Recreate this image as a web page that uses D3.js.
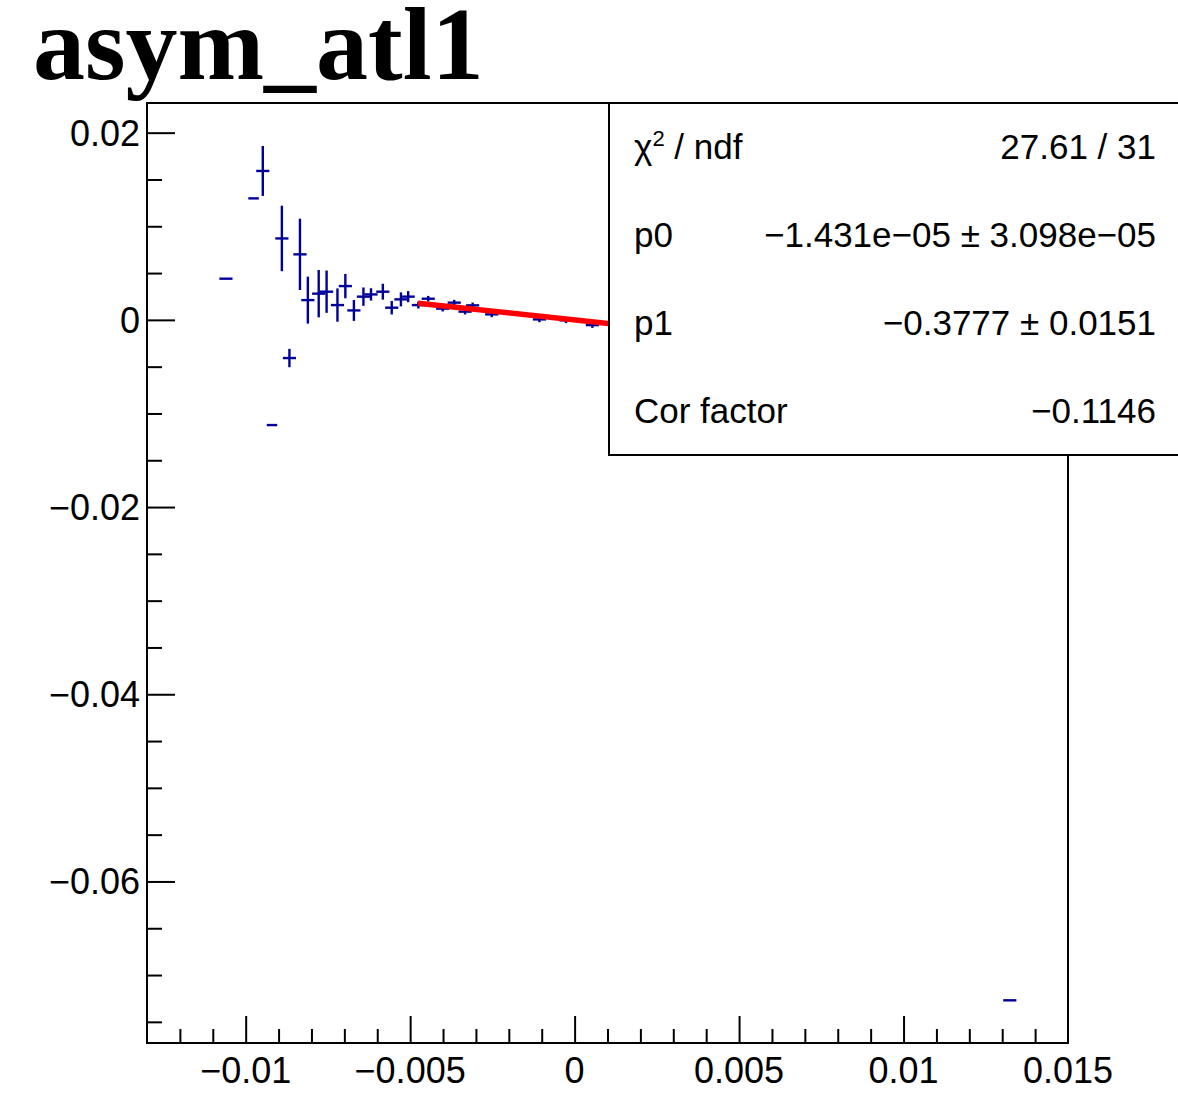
<!DOCTYPE html>
<html>
<head>
<meta charset="utf-8">
<script src="https://cdn.jsdelivr.net/npm/d3@7"></script>
<style>
  html, body { margin: 0; padding: 0; background: #fff; }
  svg { display: block; }
</style>
</head>
<body>
<svg id="chart" width="1178" height="1105"></svg>
<script>
// ---- data ----
const titleText = "asym_atl1";
const xVals = [-0.0106, -0.00976, -0.00948, -0.0092, -0.0089, -0.00867, -0.00835, -0.00811, -0.00778, -0.00754,
               -0.00721, -0.00697, -0.00671, -0.00642, -0.00619, -0.00583, -0.00556, -0.00528, -0.00506, -0.00475,
               -0.00445, -0.00401, -0.00366, -0.00333, -0.0031, -0.00252, -0.00107, -0.00026, 0.00054, 0.01323];
const yVals = [0.0044, 0.01298, 0.01591, -0.01124, 0.0087, -0.00408, 0.0070, 0.00211, 0.0028, 0.00301,
               0.00158, 0.00361, 0.00101, 0.00248, 0.00272, 0.00301, 0.0013, 0.00219, 0.00248, 0.00158,
               0.00226, 0.0012, 0.00184, 0.00088, 0.00155, 0.00059, 0.00005, -0.00005, -0.00056, -0.0727];
const xErrs = [0.0002, 0.00016, 0.0002, 0.00016, 0.0002, 0.0002, 0.0002, 0.0002, 0.0002, 0.0002,
               0.0002, 0.0002, 0.0002, 0.0002, 0.0002, 0.0002, 0.0002, 0.0002, 0.0002, 0.0002,
               0.0002, 0.0002, 0.0002, 0.0002, 0.0002, 0.0002, 0.0002, 0.0002, 0.0002, 0.0002];
const yErrs = [0, 0, 0.00267, 0, 0.0035, 0.00098, 0.00381, 0.00251, 0.00253, 0.00226,
               0.00178, 0.0013, 0.00112, 0.00098, 0.00066, 0.00085, 0.00072, 0.00075, 0.00059, 0.00037,
               0.0003, 0.0003, 0.0003, 0.0003, 0.0003, 0.0003, 0.0003, 0.0003, 0.0003, 0];

// fit: y = p0 + p1*x
const fitP0 = -1.431e-05;
const fitP1 = -0.3777;
const fitRange = [-0.00476, 0.0135];

const xDomain = [-0.013, 0.015];
const yDomain = [-0.07726, 0.02317];
const xMajorTicks = [-0.01, -0.005, 0, 0.005, 0.01, 0.015];
const xTickLabels = ["\u22120.01", "\u22120.005", "0", "0.005", "0.01", "0.015"];
const yMajorTicks = [0.02, 0, -0.02, -0.04, -0.06];
const yTickLabels = ["0.02", "0", "\u22120.02", "\u22120.04", "\u22120.06"];

const statLabels = ["\u03C7\u00B2 / ndf", "p0", "p1", "Cor factor"];
const statValues = ["27.61 / 31", "\u22121.431e\u221205 \u00B1 3.098e\u221205", "\u22120.3777 \u00B1 0.0151", "\u22120.1146"];

// ---- layout ----
const svg = d3.select("#chart");
const L = 147, R = 1068, T = 103, B = 1043;
const x = d3.scaleLinear().domain(xDomain).range([L, R]);
const y = d3.scaleLinear().domain(yDomain).range([B, T]);
const sans = "'Liberation Sans', Arial, Helvetica, sans-serif";

svg.append("rect").attr("width", 1178).attr("height", 1105).attr("fill", "#fff");

// title
svg.append("text")
  .attr("x", 33).attr("y", 79)
  .attr("font-family", "'Liberation Serif', 'Times New Roman', serif")
  .attr("font-weight", "bold")
  .attr("font-size", 104)
  .attr("fill", "#000")
  .text(titleText);

// axes (ROOT style ticks inside frame)
const xMinor = d3.range(-12, 15).map(i => i * 0.001).filter(v => !xMajorTicks.some(m => Math.abs(m - v) < 1e-9));
const yMinor = d3.range(-15, 5).map(i => i * 0.005).filter(v => v > yDomain[0] && v < yDomain[1] && !yMajorTicks.some(m => Math.abs(m - v) < 1e-9));

const xAxisMajor = d3.axisBottom(x).tickValues(xMajorTicks.filter(v => v < 0.0149)).tickSize(-27).tickFormat("");
const xAxisMinor = d3.axisBottom(x).tickValues(xMinor).tickSize(-14).tickFormat("");
const yAxisMajor = d3.axisLeft(y).tickValues(yMajorTicks).tickSize(-28).tickFormat("");
const yAxisMinor = d3.axisLeft(y).tickValues(yMinor).tickSize(-15).tickFormat("");

function styleAxis(g) {
  g.select(".domain").remove();
  g.selectAll(".tick line").attr("stroke", "#000").attr("stroke-width", 2);
}
svg.append("g").attr("transform", `translate(0,${B})`).call(xAxisMajor).call(styleAxis);
svg.append("g").attr("transform", `translate(0,${B})`).call(xAxisMinor).call(styleAxis);
svg.append("g").attr("transform", `translate(${L},0)`).call(yAxisMajor).call(styleAxis);
svg.append("g").attr("transform", `translate(${L},0)`).call(yAxisMinor).call(styleAxis);

// tick labels
svg.append("g").selectAll("text").data(xMajorTicks).join("text")
  .attr("x", d => x(d)).attr("y", 1083)
  .attr("text-anchor", "middle")
  .attr("font-family", sans).attr("font-size", 36).attr("fill", "#000")
  .text((d, i) => xTickLabels[i]);
svg.append("g").selectAll("text").data(yMajorTicks).join("text")
  .attr("x", 140).attr("y", d => y(d) + 13)
  .attr("text-anchor", "end")
  .attr("font-family", sans).attr("font-size", 36).attr("fill", "#000")
  .text((d, i) => yTickLabels[i]);

// data error bars
const pts = xVals.map((v, i) => ({ x: v, y: yVals[i], ex: xErrs[i], ey: yErrs[i] }));
const gData = svg.append("g").attr("stroke", "#000099").attr("stroke-width", 2.4).attr("fill", "none");
gData.selectAll("line.h").data(pts).join("line").attr("class", "h")
  .attr("x1", d => x(d.x - d.ex)).attr("x2", d => x(d.x + d.ex))
  .attr("y1", d => y(d.y)).attr("y2", d => y(d.y));
gData.selectAll("line.v").data(pts.filter(d => d.ey > 0)).join("line").attr("class", "v")
  .attr("x1", d => x(d.x)).attr("x2", d => x(d.x))
  .attr("y1", d => y(d.y - d.ey)).attr("y2", d => y(d.y + d.ey));

// fit line
svg.append("line")
  .attr("x1", x(fitRange[0])).attr("y1", y(fitP0 + fitP1 * fitRange[0]))
  .attr("x2", x(fitRange[1])).attr("y2", y(fitP0 + fitP1 * fitRange[1]))
  .attr("stroke", "#ff0000").attr("stroke-width", 5.5);

// frame
svg.append("rect")
  .attr("x", L).attr("y", T).attr("width", R - L).attr("height", B - T)
  .attr("fill", "none").attr("stroke", "#000").attr("stroke-width", 2);

// stats box
const SX = 609, ST = 103, SB = 455, SR = 1190;
svg.append("rect")
  .attr("x", SX).attr("y", ST).attr("width", SR - SX).attr("height", SB - ST)
  .attr("fill", "#fff").attr("stroke", "#000").attr("stroke-width", 2);
const rowH = (SB - ST) / statLabels.length;
const gs = svg.append("g").attr("font-family", sans).attr("font-size", 35).attr("fill", "#000");
statLabels.forEach((lab, i) => {
  const cy = ST + rowH * (i + 0.5) + 12;
  const t = gs.append("text").attr("x", 634).attr("y", cy);
  if (i === 0) {
    t.append("tspan").text("\u03C7");
    t.append("tspan").attr("font-size", 22).attr("dy", -13).text("2");
    t.append("tspan").attr("dy", 13).text(" / ndf");
  } else {
    t.text(lab);
  }
  gs.append("text").attr("x", 1156).attr("y", cy).attr("text-anchor", "end").text(statValues[i]);
});
</script>
</body>
</html>
